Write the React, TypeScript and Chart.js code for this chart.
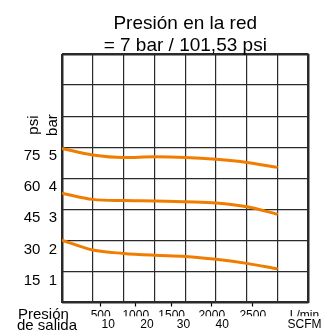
import React, { useEffect, useRef } from 'react';
import { Chart, registerables } from 'chart.js';

Chart.register(...registerables);

const titleLines = ['Presión en la red', '= 7 bar / 101,53 psi'];
const flowDiv = [0, 1, 2, 3, 4, 5, 6, 7];
const curveHigh = [4.96, 4.75, 4.67, 4.69, 4.67, 4.61, 4.51, 4.35];
const curveMid = [3.52, 3.32, 3.28, 3.27, 3.24, 3.2, 3.08, 2.84];
const curveLow = [2.01, 1.69, 1.58, 1.52, 1.48, 1.39, 1.26, 1.08];
const yTickLabels = ['', '15  1', '30  2', '45  3', '60  4', '75  5', '', '', ''];
const lpmLabels = ['500', '1000', '1500', '2000', '2500', 'L/min'];
const lpmPos = [1.256, 2.395, 3.56, 4.86, 6.19, 7.87];
const scfmLabels = ['10', '20', '30', '40', 'SCFM'];
const scfmPos = [1.5, 2.76, 3.94, 5.2, 7.87];
const outletLabel = ['Presión', 'de salida'];
const unitLabels = ['psi', 'bar'];

const FONT = '"Liberation Sans", Arial, sans-serif';
const ORANGE = '#F07D00';

const extraText = {
  id: 'extraText',
  afterDraw(chart: any) {
    const ctx = chart.ctx;
    const area = chart.chartArea;
    const y = chart.scales.y;
    ctx.save();
    ctx.fillStyle = '#000';
    ctx.font = '15px ' + FONT;
    ctx.textAlign = 'left';
    ctx.textBaseline = 'alphabetic';
    ctx.fillText(outletLabel[0], 18, area.bottom + 16);
    ctx.fillText(outletLabel[1], 17, area.bottom + 27);
    const cy = y.getPixelForValue(6) + 9;
    const xs = [33.5, 52.5];
    unitLabels.forEach((t, i) => {
      ctx.save();
      ctx.translate(xs[i], cy);
      ctx.rotate(-Math.PI / 2);
      ctx.textAlign = 'center';
      ctx.textBaseline = 'middle';
      ctx.fillText(t, 0, 0);
      ctx.restore();
    });
    ctx.restore();
  },
};

export default function App() {
  const ref = useRef<HTMLCanvasElement | null>(null);
  useEffect(() => {
    if (!ref.current) return;
    Chart.defaults.font.family = FONT;
    Chart.defaults.color = '#000';
    const mk = (vals: number[]) => flowDiv.map((x, i) => ({ x, y: vals[i] }));
    const ds = (vals: number[]) => ({
      data: mk(vals),
      borderColor: ORANGE,
      borderWidth: 3,
      pointRadius: 0,
      cubicInterpolationMode: 'monotone' as const,
      fill: false,
    });
    const gridW = (ctx: any) => (ctx.tick && (ctx.tick.value === 0 || ctx.tick.value === 8) ? 2.5 : 1.2);
    const chart = new Chart(ref.current, {
      type: 'line',
      data: { datasets: [ds(curveHigh), ds(curveMid), ds(curveLow)] },
      options: {
        animation: false,
        responsive: true,
        maintainAspectRatio: false,
        layout: { padding: { left: 0, right: 22.5, top: 0, bottom: 0 } },
        plugins: {
          legend: { display: false },
          tooltip: { enabled: false },
          title: {
            display: true,
            text: titleLines,
            fullSize: false,
            color: '#000',
            font: { size: 19, weight: 'normal', family: FONT, lineHeight: 22 / 19 },
            padding: { top: 13, bottom: -3 },
          },
        },
        scales: {
          x: {
            type: 'linear',
            position: 'bottom',
            min: 0,
            max: 8,
            weight: 0,
            ticks: { display: false, stepSize: 1 },
            grid: { color: '#2a2a2a', lineWidth: gridW, drawTicks: false },
            border: { display: false },
            afterFit: (s: any) => { s.height = 0; },
          },
          xL: {
            type: 'linear',
            position: 'bottom',
            min: 0,
            max: 8,
            weight: 1,
            afterBuildTicks: (s: any) => { s.ticks = lpmPos.map((v) => ({ value: v })); },
            ticks: {
              autoSkip: false,
              maxRotation: 0,
              padding: 2,
              font: { size: 12 },
              callback: (_v: any, i: number) => lpmLabels[i],
            },
            grid: {
              drawOnChartArea: false,
              drawTicks: true,
              tickLength: 4,
              tickWidth: 1.2,
              tickColor: (ctx: any) => (ctx.index === lpmLabels.length - 1 ? 'rgba(0,0,0,0)' : '#000'),
            },
            border: { display: false },
            afterFit: (s: any) => { s.height = 13.8; },
          },
          xS: {
            type: 'linear',
            position: 'bottom',
            min: 0,
            max: 8,
            weight: 2,
            afterBuildTicks: (s: any) => { s.ticks = scfmPos.map((v) => ({ value: v })); },
            ticks: {
              autoSkip: false,
              maxRotation: 0,
              padding: 1.5,
              font: { size: 12 },
              callback: (_v: any, i: number) => scfmLabels[i],
            },
            grid: { display: false, drawTicks: false },
            border: { display: false },
            afterFit: (s: any) => { s.height = 19.7; },
          },
          y: {
            type: 'linear',
            min: 0,
            max: 8,
            ticks: {
              stepSize: 1,
              padding: 5,
              labelOffset: 9,
              font: { size: 15 },
              callback: (v: any) => yTickLabels[Math.round(Number(v))] ?? '',
            },
            grid: { color: '#2a2a2a', lineWidth: gridW, drawTicks: false },
            border: { display: false },
            afterFit: (s: any) => { s.width = 62; },
          },
        },
      },
      plugins: [extraText],
    });
    return () => chart.destroy();
  }, []);
  return (
    <div style={{ position: 'fixed', left: 0, top: 0, width: 331, height: 336, background: '#fff' }}>
      <canvas ref={ref} />
    </div>
  );
}
